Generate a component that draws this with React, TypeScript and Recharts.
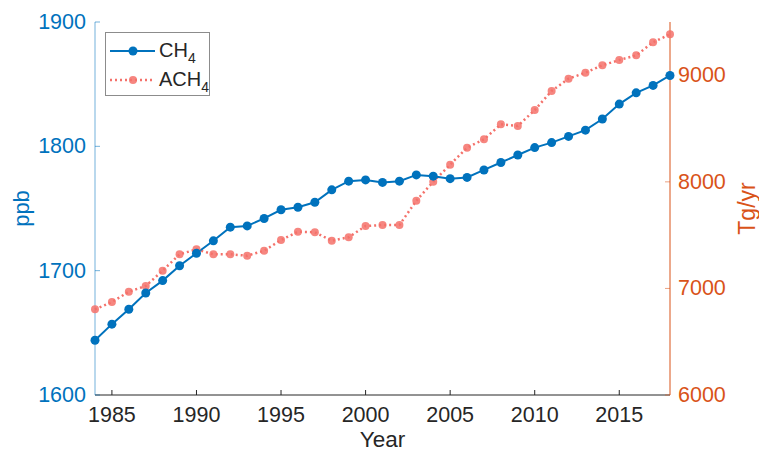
import { LineChart, Line, XAxis, YAxis } from "recharts";

// Annual methane concentration vs. anthropogenic emission estimate
const years = [
  1984, 1985, 1986, 1987, 1988, 1989, 1990, 1991, 1992, 1993,
  1994, 1995, 1996, 1997, 1998, 1999, 2000, 2001, 2002, 2003,
  2004, 2005, 2006, 2007, 2008, 2009, 2010, 2011, 2012, 2013,
  2014, 2015, 2016, 2017, 2018,
];

// ppb
const ch4 = [
  1644, 1657, 1669, 1682, 1692, 1704, 1714, 1724, 1735, 1736,
  1742, 1749, 1751, 1755, 1765, 1772, 1773, 1771, 1772, 1777,
  1776, 1774, 1775, 1781, 1787, 1793, 1799, 1803, 1808, 1813,
  1822, 1834, 1843, 1849, 1857,
];

// Tg/yr
const ach4 = [
  6804, 6873, 6969, 7023, 7167, 7320, 7367, 7320, 7320, 7307,
  7354, 7454, 7532, 7527, 7448, 7480, 7586, 7595, 7595, 7823,
  8001, 8161, 8321, 8399, 8540, 8524, 8674, 8853, 8968, 9024,
  9094, 9143, 9187, 9310, 9384,
];

const yearTicks = [1985, 1990, 1995, 2000, 2005, 2010, 2015];
const ppbTicks = [1600, 1700, 1800, 1900];
const tgTicks = [6000, 7000, 8000, 9000];

const data = years.map((year, i) => ({ year, ch4: ch4[i], ach4: ach4[i] }));

const FONT = "'Liberation Sans', Arial, Helvetica, sans-serif";
const BLUE = "#0072BD";
const ORANGE = "#D95319";
const SALMON = "#F4716A";
const DARK = "#262626";
const TICK_SIZE = 21.5;

const W = 759;
const H = 452;

function TickText({ x, y, payload, anchor, color }: any) {
  return (
    <text
      x={x}
      y={y}
      fill={color}
      fontSize={TICK_SIZE}
      fontFamily={FONT}
      textAnchor={anchor}
      dominantBaseline="central"
    >
      {payload.value}
    </text>
  );
}

function SideLabel({ viewBox, text, color, dx, size }: any) {
  if (!viewBox) return null;
  const x = dx >= 0 ? viewBox.x + dx : viewBox.x + viewBox.width + dx;
  const y = viewBox.y + viewBox.height / 2;
  return (
    <text
      x={x}
      y={y}
      fill={color}
      fontSize={size}
      fontFamily={FONT}
      textAnchor="middle"
      dominantBaseline="central"
      transform={`rotate(-90 ${x} ${y})`}
    >
      {text}
    </text>
  );
}

function BottomLabel({ viewBox }: any) {
  if (!viewBox) return null;
  return (
    <text
      x={viewBox.x + viewBox.width / 2}
      y={viewBox.y + 52}
      fill={DARK}
      fontSize={22.5}
      fontFamily={FONT}
      textAnchor="middle"
    >
      Year
    </text>
  );
}

function LegendBox() {
  return (
    <svg
      width={106}
      height={65}
      style={{ position: "absolute", left: 105, top: 32 }}
    >
      <rect x={0.5} y={0.5} width={104} height={63} fill="#fff" stroke="#8c8c8c" />
      <line x1={5} x2={50} y1={19} y2={19} stroke={BLUE} strokeWidth={2} />
      <circle cx={28} cy={19} r={4.5} fill={BLUE} />
      <text x={54} y={25} fontSize={20} fontFamily={FONT} fill={DARK}>
        CH<tspan fontSize={14} dy={6}>4</tspan>
      </text>
      <line
        x1={5}
        x2={50}
        y1={48}
        y2={48}
        stroke={SALMON}
        strokeWidth={2.5}
        strokeDasharray="2 3"
      />
      <circle cx={28} cy={48} r={4} fill={SALMON} fillOpacity={0.85} />
      <text x={54} y={54} fontSize={20} fontFamily={FONT} fill={DARK}>
        ACH<tspan fontSize={14} dy={6}>4</tspan>
      </text>
    </svg>
  );
}

export default function App() {
  return (
    <div
      style={{
        position: "absolute",
        left: 0,
        top: 0,
        width: W,
        height: H,
        background: "#fff",
        overflow: "hidden",
      }}
    >
      <LineChart
        width={W}
        height={H}
        data={data}
        margin={{ top: 22, right: 0, bottom: 0, left: 0 }}
      >
        <XAxis
          dataKey="year"
          type="number"
          domain={[1984, 2018]}
          ticks={yearTicks}
          height={57}
          stroke={DARK}
          tickSize={-5}
          tickMargin={25}
          tick={(p: any) => <TickText {...p} anchor="middle" color={DARK} />}
          label={{ content: (p: any) => <BottomLabel viewBox={p.viewBox} /> }}
        />
        <XAxis
          xAxisId="top"
          dataKey="year"
          type="number"
          orientation="top"
          domain={[1984, 2018]}
          ticks={yearTicks}
          height={0}
          stroke={DARK}
          tickSize={-5}
          tick={() => <g />}
        />
        <YAxis
          yAxisId="left"
          type="number"
          domain={[1600, 1900]}
          ticks={ppbTicks}
          width={95}
          axisLine={{ stroke: BLUE, strokeOpacity: 0.55 }}
          tickLine={{ stroke: BLUE, strokeOpacity: 0.55 }}
          tickSize={-5}
          tickMargin={14}
          tick={(p: any) => <TickText {...p} anchor="end" color={BLUE} />}
          label={{
            content: (p: any) => (
              <SideLabel viewBox={p.viewBox} text="ppb" color={BLUE} dx={21} size={22} />
            ),
          }}
        />
        <YAxis
          yAxisId="right"
          orientation="right"
          type="number"
          domain={[6000, 9500]}
          ticks={tgTicks}
          width={89}
          axisLine={{ stroke: ORANGE }}
          tickLine={{ stroke: ORANGE, strokeOpacity: 0.55 }}
          tickSize={-5}
          tickMargin={13}
          tick={(p: any) => <TickText {...p} anchor="start" color={ORANGE} />}
          label={{
            content: (p: any) => (
              <SideLabel viewBox={p.viewBox} text="Tg/yr" color={ORANGE} dx={-12} size={23} />
            ),
          }}
        />
        <Line
          yAxisId="right"
          dataKey="ach4"
          stroke={SALMON}
          strokeWidth={2.5}
          strokeDasharray="2 3"
          dot={{ r: 4, fill: SALMON, fillOpacity: 0.85, stroke: "none" }}
          isAnimationActive={false}
        />
        <Line
          yAxisId="left"
          dataKey="ch4"
          stroke={BLUE}
          strokeWidth={2}
          dot={{ r: 4.5, fill: BLUE, stroke: "none" }}
          isAnimationActive={false}
        />
      </LineChart>
      <LegendBox />
    </div>
  );
}
